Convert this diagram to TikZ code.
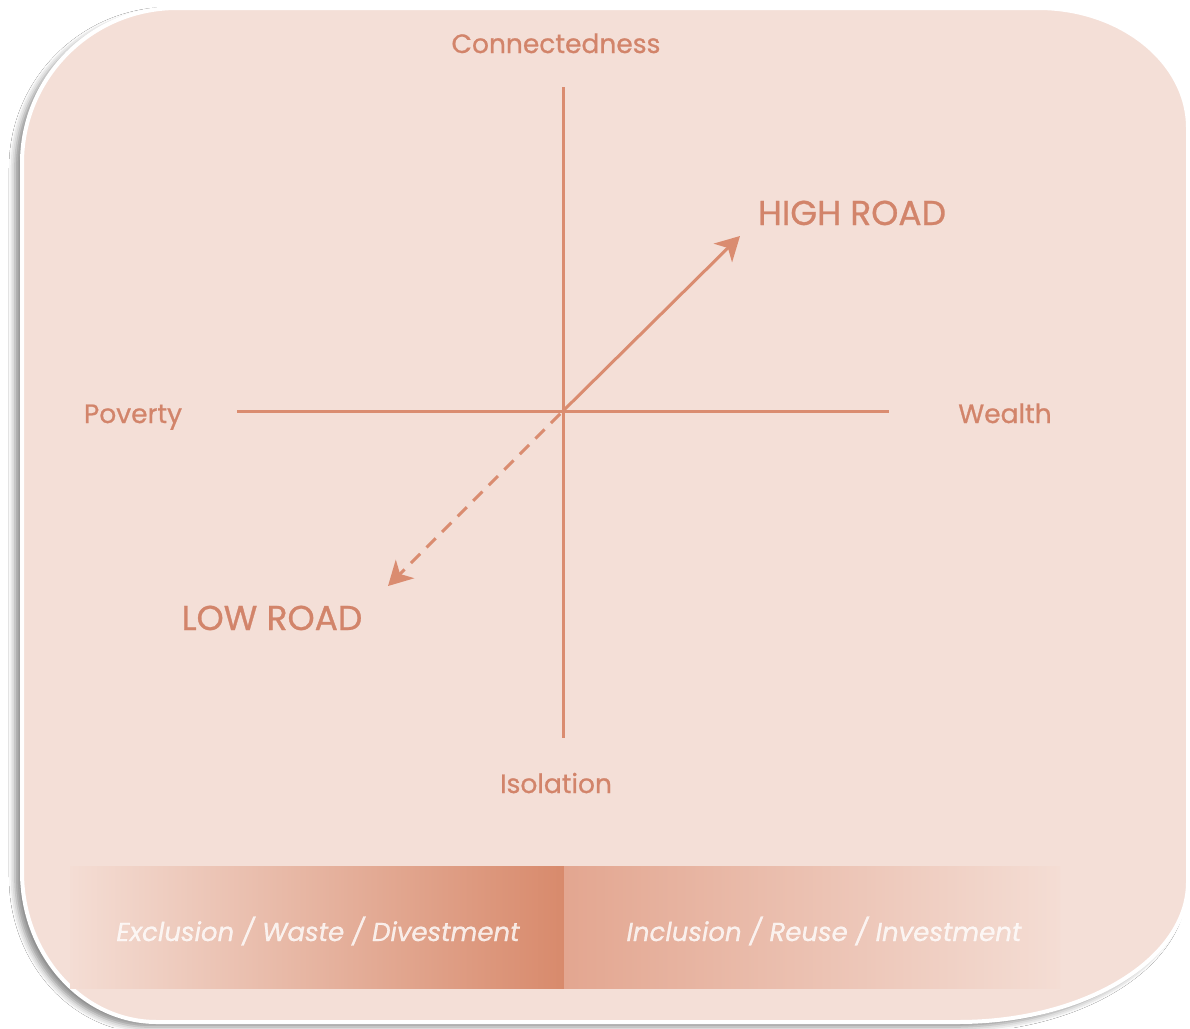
\documentclass[tikz,border=0pt]{standalone}
\usepackage{fontspec}
\setmainfont{Poppins}
\newfontfamily\lblfont{Poppins}[FakeBold=0.8]
\newfontfamily\barfont{Poppins}[FakeBold=0.8]
\usetikzlibrary{arrows.meta,shadows.blur}
\definecolor{bgpink}{HTML}{F4DFD7}
\definecolor{axis}{HTML}{DA8C70}
\definecolor{lbl}{HTML}{D2846A}
\definecolor{bardark}{HTML}{D88A6C}
\definecolor{barmid}{HTML}{E3A690}
\definecolor{barlight}{HTML}{F4DDD4}
\tikzset{
  axisline/.style={draw=axis, line width=3pt},
  roadarrow/.style={draw=axis, line width=3pt, -{Stealth[length=24pt, width=26pt, inset=7pt]}},
  axislabel/.style={anchor=base, text=lbl, font=\lblfont\fontsize{26.5}{30}\selectfont},
  roadlabel/.style={anchor=base, text=lbl, font=\lblfont\fontsize{34.5}{40}\selectfont},
  barlabel/.style={anchor=base, text=white, text opacity=0.8, font=\barfont\itshape\fontsize{26}{30}\selectfont},
}
\begin{document}
\begin{tikzpicture}[x=1pt,y=-1pt]
\useasboundingbox (0,0) rectangle (1190,1028);
\fill[white] (0,0) rectangle (1190,1028);
% panel
\path[fill=bgpink, draw=white, line width=4pt,
      blur shadow={shadow xshift=-7pt, shadow yshift=-5pt, shadow blur radius=6pt, shadow opacity=45}]
  (22,163) -- (22,872)
  .. controls (22,954.8) and (82.5,1022) .. (157,1022)
  -- (958,1022)
  .. controls (1085,1022) and (1188,959.3) .. (1188,882)
  -- (1188,128)
  .. controls (1188,61.8) and (1120.8,8) .. (1038,8)
  -- (177,8)
  .. controls (91.4,8) and (22,77.4) .. cycle;
% bottom bar
\fill[left color=barlight, right color=bardark] (70,866) rectangle (564,988);
\fill[left color=barmid, right color=barlight] (564,866) rectangle (1060,988);
\node[barlabel] (excl) at (318,941) {Exclusion / Waste / Divestment};
\node[barlabel] (incl) at (824,941) {Inclusion / Reuse / Investment};
% axes
\coordinate (o) at (563,411);
\coordinate (top) at (563,87);
\coordinate (bot) at (563,738);
\coordinate (lft) at (237,411);
\coordinate (rgt) at (889,411);
\coordinate (hi) at (740,236);
\coordinate (lo) at (388,586);
\draw[axisline] (top) -- (bot);
\draw[axisline] (lft) -- (rgt);
\draw[roadarrow] (o) -- (hi);
\draw[roadarrow, dash pattern=on 13pt off 9pt, dash phase=-4pt] (o) -- (lo);
% labels
\node[axislabel] (conn) at (556,53) {Connectedness};
\node[axislabel] (pov) at (133,423) {Poverty};
\node[axislabel] (wea) at (1005,423) {Wealth};
\node[axislabel] (iso) at (556,793) {Isolation};
\node[roadlabel] (high) at (852,225) {HIGH ROAD};
\node[roadlabel] (low) at (272,630) {LOW ROAD};
\end{tikzpicture}
\end{document}
